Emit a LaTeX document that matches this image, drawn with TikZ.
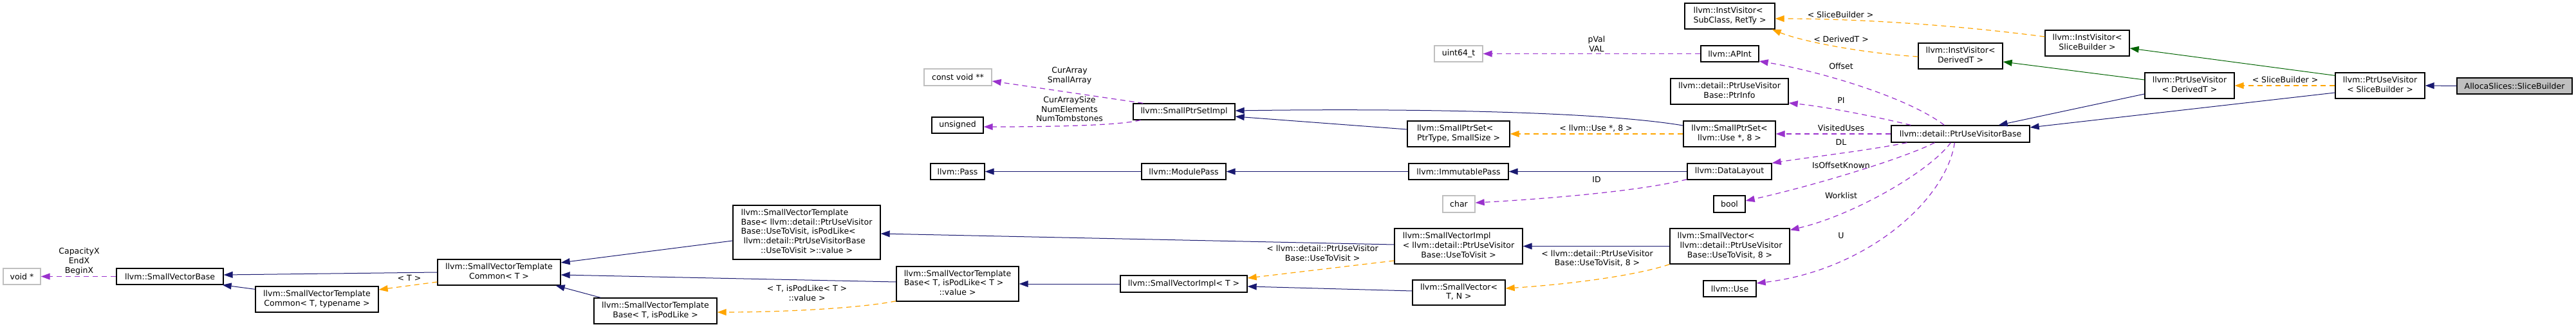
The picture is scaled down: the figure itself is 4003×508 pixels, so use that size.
\documentclass[tikz,border=0pt]{standalone}
\usepackage{fontspec}
\setmainfont{DejaVu Sans}
\usetikzlibrary{arrows.meta,calc}
\definecolor{inhc}{HTML}{191970}
\definecolor{protc}{HTML}{006400}
\definecolor{tmplc}{HTML}{FFA500}
\definecolor{usec}{HTML}{9A32CD}
\definecolor{grayb}{HTML}{BFBFBF}
\newcommand{\dfont}{\fontsize{6.25pt}{7.35pt}\selectfont}
\newcommand{\lns}[2]{\begin{tabular}{@{}l@{}}#1\\\multicolumn{1}{@{}c@{}}{#2}\end{tabular}}
\newcommand{\mkbox}[6][cls]{\node[#1,minimum width={#5*0.5pt},minimum height={#6*0.5pt}] (#2) at (#3) {#4};}
\tikzset{
  cls/.style={draw=black,line width=0.65pt,fill=white,inner sep=0pt,font=\dfont,text=black},
  ext/.style={cls,draw=grayb},
  cur/.style={cls,fill=grayb},
  lbl/.style={font=\dfont,align=center,inner sep=0pt,text=black},
  tip/.style={-{Triangle[length=7pt,width=5pt]}},
  pub/.style={draw=inhc,line width=0.5pt,tip},
  pro/.style={draw=protc,line width=0.5pt,tip},
  tpl/.style={draw=tmplc,line width=0.6pt,dash pattern=on 4pt off 3pt,tip},
  usg/.style={draw=usec,line width=0.6pt,dash pattern=on 4pt off 3pt,tip},
}
\begin{document}
\begin{tikzpicture}[x=0.5pt,y=-0.5pt]
\fill[white] (0,0) rectangle (4003,508);
\useasboundingbox (0,0) rectangle (4003,508);
% boxes
\mkbox[ext]{voidp}{34,429.5}{void *}{58}{25}
\mkbox{svb}{264,429.5}{llvm::SmallVectorBase}{166}{25}
\mkbox{svtcT2}{492.5,465}{\lns{llvm::SmallVectorTemplate}{Common< T, typename >}}{191}{40}
\mkbox{svtcT}{775.5,423}{\lns{llvm::SmallVectorTemplate}{Common< T >}}{191}{40}
\mkbox{svtbPUV}{1253.5,361}{\lns{llvm::SmallVectorTemplate\\Base< llvm::detail::PtrUseVisitor\\Base::UseToVisit, isPodLike<\\~llvm::detail::PtrUseVisitorBase}{::UseToVisit >::value >}}{229}{84}
\mkbox{svtbTP}{1018.5,483}{\lns{llvm::SmallVectorTemplate}{Base< T, isPodLike >}}{191}{40}
\mkbox{svtbTPv}{1488,441}{\lns{llvm::SmallVectorTemplate\\Base< T, isPodLike< T >}{::value >}}{190}{54}
\mkbox[ext]{cvoid}{1488.5,120}{const void **}{105}{26}
\mkbox{unsigned}{1488,194.5}{unsigned}{80}{25}
\mkbox{pass}{1488,266.5}{llvm::Pass}{84}{25}
\mkbox{spsi}{1840,173.5}{llvm::SmallPtrSetImpl}{158}{25}
\mkbox{modpass}{1839.5,266.5}{llvm::ModulePass}{131}{25}
\mkbox{sviT}{1839.5,441}{llvm::SmallVectorImpl< T >}{197}{26}
\mkbox[ext]{uint64}{2266.5,83.5}{uint64\_t}{75}{25}
\mkbox{spsPT}{2266.5,208}{\lns{llvm::SmallPtrSet<}{PtrType, SmallSize >}}{159}{40}
\mkbox{immpass}{2266.5,266.5}{llvm::ImmutablePass}{155}{25}
\mkbox[ext]{char}{2267,317}{char}{50}{26}
\mkbox{sviPUV}{2266.5,382.5}{\lns{llvm::SmallVectorImpl\\< llvm::detail::PtrUseVisitor}{Base::UseToVisit >}}{199}{55}
\mkbox{svTN}{2267,454.5}{\lns{llvm::SmallVector<}{T, N >}}{144}{39}
\mkbox{ivSR}{2688,25}{\lns{llvm::InstVisitor<}{SubClass, RetTy >}}{140}{40}
\mkbox{apint}{2688,83.5}{llvm::APInt}{90}{25}
\mkbox{ptrinfo}{2687.5,142}{\lns{llvm::detail::PtrUseVisitor}{Base::PtrInfo}}{183}{40}
\mkbox{spsU}{2687.5,208}{\lns{llvm::SmallPtrSet<}{llvm::Use *, 8 >}}{143}{40}
\mkbox{dl}{2687.5,266.5}{llvm::DataLayout}{131}{25}
\mkbox{bool}{2687.5,317}{bool}{49}{26}
\mkbox{svPUV8}{2688,382.5}{\lns{llvm::SmallVector<\\~llvm::detail::PtrUseVisitor}{Base::UseToVisit, 8 >}}{186}{55}
\mkbox{use}{2688,448.5}{llvm::Use}{82}{25}
\mkbox{ivD}{3046.5,87}{\lns{llvm::InstVisitor<}{DerivedT >}}{131}{40}
\mkbox{puvb}{3046.5,208}{llvm::detail::PtrUseVisitorBase}{215}{26}
\mkbox{ivSB}{3243.5,67}{\lns{llvm::InstVisitor<}{SliceBuilder >}}{131}{40}
\mkbox{puvD}{3402.5,133}{\lns{llvm::PtrUseVisitor}{< DerivedT >}}{139}{40}
\mkbox{puvSB}{3698.5,133}{\lns{llvm::PtrUseVisitor}{< SliceBuilder >}}{139}{40}
\mkbox[cur]{as}{3907.5,133.5}{AllocaSlices::SliceBuilder}{179}{25}
% public inheritance
\draw[pub] (svtcT.west) -- ($(svb.east)+(0,-2.5)$);
\draw[pub] ($(svtcT2.north west)+(0,5)$) -- ($(svb.south east)+(-2,0)$);
\draw[pub] ($(svtbPUV.west)+(0,13)$) -- ($(svtcT.east)+(0,-15)$);
\draw[pub] ($(svtbTPv.west)+(0,-3)$) -- ($(svtcT.east)+(0,4)$);
\draw[pub] ($(svtbTP.north west)+(11,0)$) -- ($(svtcT.south east)+(-8,0)$);
\draw[pub] (sviT.west) -- (svtbTPv.east);
\draw[pub] ($(sviPUV.west)+(0,-2.5)$) -- ($(svtbPUV.east)+(0,2)$);
\draw[pub] ($(svTN.west)+(0,-2.5)$) -- ($(sviT.east)+(0,4)$);
\draw[pub] (svPUV8.west) -- (sviPUV.east);
\draw[pub] (modpass.west) -- (pass.east);
\draw[pub] (immpass.west) -- (modpass.east);
\draw[pub] (dl.west) -- (immpass.east);
\draw[pub] ($(spsPT.west)+(0,-7)$) -- ($(spsi.east)+(0,7.5)$);
\draw[pub] ($(spsU.west)+(0,-13)$) .. controls +(-150,-25) and +(200,-3) .. ($(spsi.east)+(0,-1.5)$);
\draw[pub] ($(puvD.west)+(0,13)$) -- ($(puvb.north east)+(-49,0)$);
\draw[pub] ($(puvSB.west)+(0,11)$) -- ($(puvb.east)+(0,-10)$);
\draw[pub] (as.west) -- (puvSB.east);
% protected inheritance
\draw[pro] ($(puvD.west)+(0,-9)$) -- ($(ivD.east)+(0,9)$);
\draw[pro] ($(puvSB.north west)+(0,5)$) -- ($(ivSB.east)+(0,8)$);
% template instances
\draw[tpl] ($(svtcT.west)+(0,15)$) -- ($(svtcT2.east)+(0,-15)$);
\node[lbl] (l1) at (636,432) {< T >};
\draw[tpl] ($(svtbTPv.south west)+(0,-1)$) .. controls +(-60,12) and +(90,0) .. ($(svtbTP.east)+(0,2)$);
\node[lbl] (l2) at (1254,455.5) {< T, isPodLike< T >\\::value >};
\draw[tpl] ($(sviPUV.west)+(0,22.5)$) -- ($(sviT.east)+(0,-9)$);
\node[lbl] (l3) at (2055,393) {< llvm::detail::PtrUseVisitor\\Base::UseToVisit >};
\draw[tpl] (svPUV8.south west) .. controls +(-60,20) and +(80,-5) .. ($(svTN.east)+(0,-6.5)$);
\node[lbl] (l4) at (2482,401.5) {< llvm::detail::PtrUseVisitor\\Base::UseToVisit, 8 >};
\draw[tpl] (spsU.west) -- (spsPT.east);
\node[lbl] (l5) at (2480,199) {< llvm::Use *, 8 >};
\draw[tpl] ($(ivSB.west)+(0,-10)$) .. controls +(-170,-22) and +(100,0) .. ($(ivSR.east)+(0,4)$);
\node[lbl] (l6) at (2860,23) {< SliceBuilder >};
\draw[tpl] ($(ivD.west)+(0,1)$) .. controls +(-80,-5) and +(50,20) .. ($(ivSR.south east)+(-5,0)$);
\node[lbl] (l7) at (2861,61) {< DerivedT >};
\draw[tpl] (puvSB.west) -- (puvD.east);
\node[lbl] (l8) at (3551,124) {< SliceBuilder >};
% usage relations
\draw[usg] (svb.west) -- (voidp.east);
\node[lbl] (m1) at (123,406) {CapacityX\\EndX\\BeginX};
\draw[usg] ($(spsi.north west)+(16,0)$) -- ($(cvoid.east)+(0,6)$);
\node[lbl] (m2) at (1662,117.5) {CurArray\\SmallArray};
\draw[usg] ($(spsi.south west)+(12,0)$) .. controls +(-40,10) and +(60,0) .. ($(unsigned.east)+(0,2.5)$);
\node[lbl] (m3) at (1662,169.5) {CurArraySize\\NumElements\\NumTombstones};
\draw[usg] (apint.west) -- (uint64.east);
\node[lbl] (m4) at (2481,68.5) {pVal\\VAL};
\draw[usg] ($(dl.south west)+(0,-1)$) .. controls +(-80,20) and +(90,-5) .. ($(char.east)+(0,-2)$);
\node[lbl] (m5) at (2481,279) {ID};
\draw[usg] ($(puvb.north west)+(83,0)$) .. controls +(-60,-45) and +(90,15) .. ($(apint.east)+(0,11.5)$);
\node[lbl] (m6) at (2861,103) {Offset};
\draw[usg] ($(puvb.north west)+(31,0)$) .. controls +(-50,-12) and +(60,6) .. ($(ptrinfo.east)+(0,18)$);
\node[lbl] (m7) at (2861,156) {PI};
\draw[usg] (puvb.west) -- (spsU.east);
\node[lbl] (m8) at (2861,199) {VisitedUses};
\draw[usg] ($(puvb.south west)+(25,0)$) .. controls +(-60,12) and +(50,-8) .. (dl.north east);
\node[lbl] (m9) at (2861,221) {DL};
\draw[usg] ($(puvb.south west)+(68,0)$) .. controls +(-47,24) and +(108,-24) .. ($(bool.east)+(0,-5)$);
\node[lbl] (m10) at (2861,257) {IsOffsetKnown};
\draw[usg] ($(puvb.south west)+(93,0)$) .. controls +(-32,44) and +(99,-23) .. ($(svPUV8.north east)+(0,3)$);
\node[lbl] (m11) at (2861,304) {Worklist};
\draw[usg] ($(puvb.south west)+(99,0)$) .. controls +(-13,89) and +(171,-20) .. ($(use.east)+(0,-8.5)$);
\node[lbl] (m12) at (2861,366) {U};
\end{tikzpicture}
\end{document}
